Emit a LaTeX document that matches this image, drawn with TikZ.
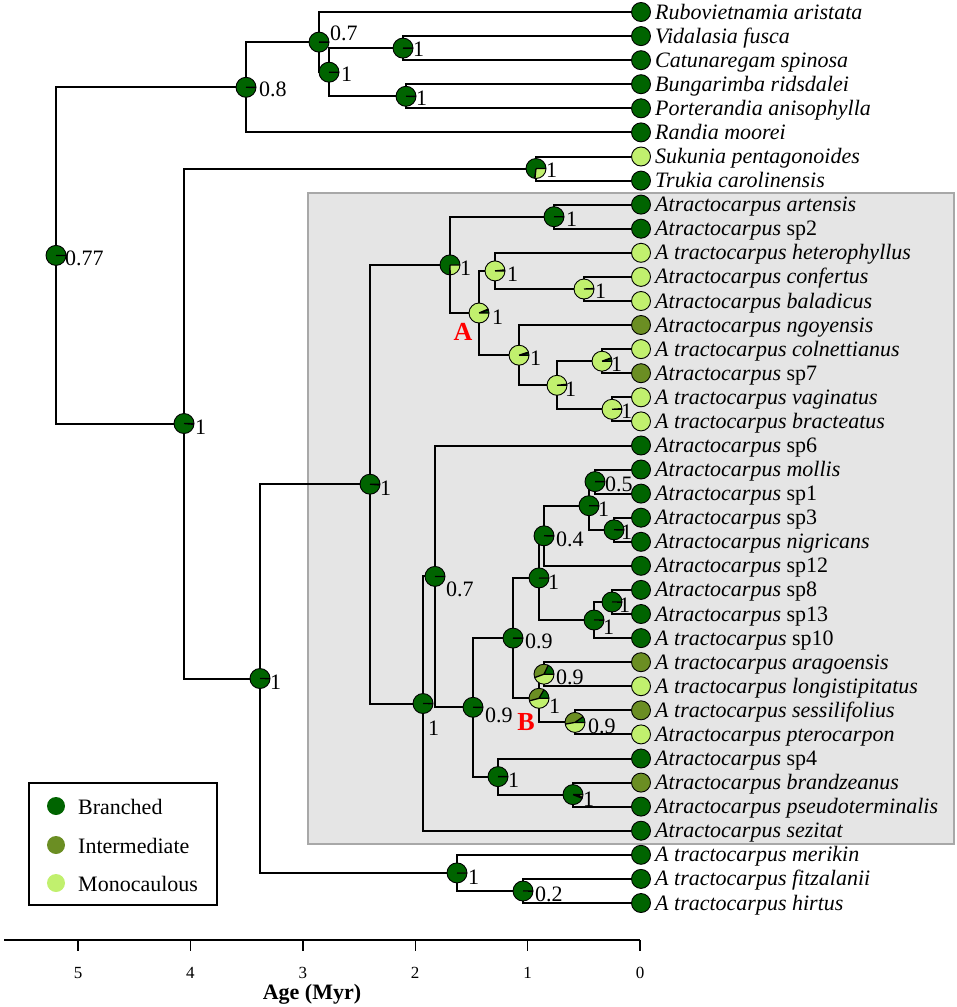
\documentclass[tikz,border=0pt]{standalone}
\usepackage{fontspec}
\setmainfont{Liberation Serif}
\definecolor{cB}{RGB}{0,100,0}
\definecolor{cI}{RGB}{107,142,35}
\definecolor{cM}{RGB}{193,240,110}
\definecolor{boxgrey}{RGB}{229,229,229}
\definecolor{boxedge}{RGB}{168,168,168}
\newcommand\nodepie[3]{%
 \fill[cB] (#1) -- ++(0:10) arc[start angle=0,end angle=-#2,radius=10] -- cycle;
 \fill[cI] (#1) -- ++(-#2:10) arc[start angle=-#2,end angle=-#3,radius=10] -- cycle;
 \fill[cM] (#1) -- ++(-#3:10) arc[start angle=-#3,end angle=-360,radius=10] -- cycle;
 \draw[pieline] (#1) -- ++(0:10) (#1) -- ++(-#2:10) (#1) -- ++(-#3:10);
 \draw[pieedge] (#1) circle[radius=10];
}
\tikzset{
 edge/.style={line width=2pt, black},
 pieline/.style={line width=1.3pt, black},
 pieedge/.style={line width=0.9pt, black},
 tipdot/.style={circle, draw=black, line width=0.9pt, minimum size=19pt, inner sep=0pt},
 tipname/.style={anchor=base west, inner sep=0pt, font=\fontsize{22}{24}\selectfont\itshape},
 numlab/.style={anchor=base west, inner sep=0pt, font=\fontsize{22}{24}\selectfont},
 cladelab/.style={inner sep=0pt, text=red, font=\fontsize{26}{28}\selectfont\bfseries},
 ticklab/.style={inner sep=0pt, font=\fontsize{17}{19}\selectfont},
 legdot/.style={circle, minimum size=18pt, inner sep=0pt},
 legtext/.style={anchor=base west, inner sep=0pt, font=\fontsize{22}{24}\selectfont},
}
\begin{document}
\begin{tikzpicture}[x=1pt,y=-1pt]
\useasboundingbox (0,0) rectangle (957,1007);
% grey clade box
\draw[fill=boxgrey, draw=boxedge, line width=1.2pt] (308,193) rectangle (954,844);

% tips
\foreach \n/\y/\c in {rub/12.0/cB, vid/36.1/cB, cat/60.2/cB, bun/84.2/cB, por/108.3/cB, ran/132.4/cB,
  suk/156.5/cM, tru/180.6/cB, art/204.6/cB, spii/228.7/cB, het/252.8/cM, conf/276.9/cM, bal/301.0/cM,
  ngo/325.0/cI, col/349.1/cM, spvii/373.2/cI, vag/397.3/cM, bra/421.4/cM, spvi/445.5/cB, mol/469.5/cB,
  spi/493.6/cB, spiii/517.7/cB, nig/541.8/cB, spxii/565.8/cB, spviii/589.9/cB, spxiii/614.0/cB,
  spx/638.1/cB, ara/662.2/cI, lon/686.2/cM, ses/710.3/cI, pte/734.4/cM, spiv/758.5/cB, bran/782.6/cI,
  pse/806.6/cB, sez/830.7/cB, mer/854.8/cB, fit/878.9/cB, hir/903.0/cB}
  {\node[tipdot, fill=\c] (T\n) at (641,\y) {};}

% names
\node[tipname] (Nrub) at (655,19.0) {Rubovietnamia aristata};
\node[tipname] (Nvid) at (655,43.1) {Vidalasia fusca};
\node[tipname] (Ncat) at (655,67.2) {Catunaregam spinosa};
\node[tipname] (Nbun) at (655,91.2) {Bungarimba ridsdalei};
\node[tipname] (Npor) at (655,115.3) {Porterandia anisophylla};
\node[tipname] (Nran) at (655,139.4) {Randia moorei};
\node[tipname] (Nsuk) at (655,163.5) {Sukunia pentagonoides};
\node[tipname] (Ntru) at (655,187.6) {Trukia carolinensis};
\node[tipname] (Nart) at (655,211.6) {Atractocarpus artensis};
\node[tipname] (Nspii) at (655,235.7) {Atractocarpus \textup{sp2}};
\node[tipname] (Nhet) at (655,259.8) {A tractocarpus heterophyllus};
\node[tipname] (Nconf) at (655,283.9) {Atractocarpus confertus};
\node[tipname] (Nbal) at (655,308.0) {Atractocarpus baladicus};
\node[tipname] (Nngo) at (655,332.0) {Atractocarpus ngoyensis};
\node[tipname] (Ncol) at (655,356.1) {A tractocarpus colnettianus};
\node[tipname] (Nspvii) at (655,380.2) {Atractocarpus \textup{sp7}};
\node[tipname] (Nvag) at (655,404.3) {A tractocarpus vaginatus};
\node[tipname] (Nbra) at (655,428.4) {A tractocarpus bracteatus};
\node[tipname] (Nspvi) at (655,452.5) {Atractocarpus \textup{sp6}};
\node[tipname] (Nmol) at (655,476.5) {Atractocarpus mollis};
\node[tipname] (Nspi) at (655,500.6) {Atractocarpus \textup{sp1}};
\node[tipname] (Nspiii) at (655,524.7) {Atractocarpus \textup{sp3}};
\node[tipname] (Nnig) at (655,548.8) {Atractocarpus nigricans};
\node[tipname] (Nspxii) at (655,572.8) {Atractocarpus \textup{sp12}};
\node[tipname] (Nspviii) at (655,596.9) {Atractocarpus \textup{sp8}};
\node[tipname] (Nspxiii) at (655,621.0) {Atractocarpus \textup{sp13}};
\node[tipname] (Nspx) at (655,645.1) {A tractocarpus \textup{sp10}};
\node[tipname] (Nara) at (655,669.2) {A tractocarpus aragoensis};
\node[tipname] (Nlon) at (655,693.2) {A tractocarpus longistipitatus};
\node[tipname] (Nses) at (655,717.3) {A tractocarpus sessilifolius};
\node[tipname] (Npte) at (655,741.4) {Atractocarpus pterocarpon};
\node[tipname] (Nspiv) at (655,765.5) {Atractocarpus \textup{sp4}};
\node[tipname] (Nbran) at (655,789.6) {Atractocarpus brandzeanus};
\node[tipname] (Npse) at (655,813.6) {Atractocarpus pseudoterminalis};
\node[tipname] (Nsez) at (655,837.7) {Atractocarpus sezitat};
\node[tipname] (Nmer) at (655,861.8) {A tractocarpus merikin};
\node[tipname] (Nfit) at (655,885.9) {A tractocarpus fitzalanii};
\node[tipname] (Nhir) at (655,910.0) {A tractocarpus hirtus};

% internal node positions
\coordinate (n1b) at (403,48.1);
\coordinate (n1c) at (406,96.3);
\coordinate (n1a) at (329,72.2);
\coordinate (n07) at (319,42.1);
\coordinate (n08) at (246,87.3);
\coordinate (nSuk) at (536,168.5);
\coordinate (n554) at (554,216.7);
\coordinate (n584) at (584,289.0);
\coordinate (n495) at (495,270.9);
\coordinate (n602) at (602,361.2);
\coordinate (n612) at (612,409.3);
\coordinate (n557) at (557,385.3);
\coordinate (n519) at (519,355.2);
\coordinate (nA) at (479,313.0);
\coordinate (n450) at (450,264.9);
\coordinate (n595) at (595,481.6);
\coordinate (n614) at (614,529.8);
\coordinate (n589) at (589,505.7);
\coordinate (n544) at (544,535.8);
\coordinate (n612b) at (612,602.0);
\coordinate (n594) at (594,620.0);
\coordinate (n539) at (539,577.9);
\coordinate (n544b) at (544,674.2);
\coordinate (n575) at (575,722.4);
\coordinate (nB) at (539,698.3);
\coordinate (n513) at (513,638.1);
\coordinate (n573) at (573,794.6);
\coordinate (n498) at (498,776.6);
\coordinate (n473) at (473,707.3);
\coordinate (n435) at (435,576.4);
\coordinate (n423) at (423,703.5);
\coordinate (n370) at (370,484.2);
\coordinate (n523) at (523,891.0);
\coordinate (n457) at (457,872.9);
\coordinate (n260) at (260,678.5);
\coordinate (n184) at (184,423.5);
\coordinate (root) at (56,255.4);

% branches
\draw[edge] (root) |- (n08); \draw[edge] (root) |- (n184);
\draw[edge] (n08) |- (n07); \draw[edge] (n08) |- (Tran);
\draw[edge] (n07) |- (Trub); \draw[edge] (n07) |- (n1a);
\draw[edge] (n1a) |- (n1b); \draw[edge] (n1a) |- (n1c);
\draw[edge] (n1b) |- (Tvid); \draw[edge] (n1b) |- (Tcat);
\draw[edge] (n1c) |- (Tbun); \draw[edge] (n1c) |- (Tpor);
\draw[edge] (n184) |- (nSuk); \draw[edge] (n184) |- (n260);
\draw[edge] (nSuk) |- (Tsuk); \draw[edge] (nSuk) |- (Ttru);
\draw[edge] (n260) |- (n370); \draw[edge] (n260) |- (n457);
\draw[edge] (n457) |- (Tmer); \draw[edge] (n457) |- (n523);
\draw[edge] (n523) |- (Tfit); \draw[edge] (n523) |- (Thir);
\draw[edge] (n370) |- (n450); \draw[edge] (n370) |- (n423);
\draw[edge] (n450) |- (n554); \draw[edge] (n450) |- (nA);
\draw[edge] (n554) |- (Tart); \draw[edge] (n554) |- (Tspii);
\draw[edge] (nA) |- (n495); \draw[edge] (nA) |- (n519);
\draw[edge] (n495) |- (Thet); \draw[edge] (n495) |- (n584);
\draw[edge] (n584) |- (Tconf); \draw[edge] (n584) |- (Tbal);
\draw[edge] (n519) |- (Tngo); \draw[edge] (n519) |- (n557);
\draw[edge] (n557) |- (n602); \draw[edge] (n557) |- (n612);
\draw[edge] (n602) |- (Tcol); \draw[edge] (n602) |- (Tspvii);
\draw[edge] (n612) |- (Tvag); \draw[edge] (n612) |- (Tbra);
\draw[edge] (n423) |- (n435); \draw[edge] (n423) |- (Tsez);
\draw[edge] (n435) |- (Tspvi); \draw[edge] (n435) |- (n473);
\draw[edge] (n473) |- (n513); \draw[edge] (n473) |- (n498);
\draw[edge] (n498) |- (Tspiv); \draw[edge] (n498) |- (n573);
\draw[edge] (n573) |- (Tbran); \draw[edge] (n573) |- (Tpse);
\draw[edge] (n513) |- (n539); \draw[edge] (n513) |- (nB);
\draw[edge] (n539) |- (n544); \draw[edge] (n539) |- (n594);
\draw[edge] (n544) |- (n589); \draw[edge] (n544) |- (Tspxii);
\draw[edge] (n589) |- (n595); \draw[edge] (n589) |- (n614);
\draw[edge] (n595) |- (Tmol); \draw[edge] (n595) |- (Tspi);
\draw[edge] (n614) |- (Tspiii); \draw[edge] (n614) |- (Tnig);
\draw[edge] (n594) |- (n612b); \draw[edge] (n594) |- (Tspx);
\draw[edge] (n612b) |- (Tspviii); \draw[edge] (n612b) |- (Tspxiii);
\draw[edge] (nB) |- (n544b); \draw[edge] (nB) |- (n575);
\draw[edge] (n544b) |- (Tara); \draw[edge] (n544b) |- (Tlon);
\draw[edge] (n575) |- (Tses); \draw[edge] (n575) |- (Tpte);

% pies
\nodepie{root}{359}{360}
\nodepie{n08}{359}{360}
\nodepie{n07}{359}{360}
\nodepie{n1a}{359}{360}
\nodepie{n1b}{359}{360}
\nodepie{n1c}{359}{360}
\nodepie{nSuk}{262}{264}
\nodepie{n184}{355}{358}
\nodepie{n260}{359}{360}
\nodepie{n370}{355}{358}
\nodepie{n450}{268}{271}
\nodepie{n554}{359}{360}
\nodepie{nA}{18}{23}
\nodepie{n495}{4}{6}
\nodepie{n584}{2}{3}
\nodepie{n519}{15}{18}
\nodepie{n557}{4}{6}
\nodepie{n602}{17}{20}
\nodepie{n612}{3}{4}
\nodepie{n435}{359}{360}
\nodepie{n423}{359}{360}
\nodepie{n473}{359}{360}
\nodepie{n513}{359}{360}
\nodepie{n539}{359}{360}
\nodepie{n544}{359}{360}
\nodepie{n589}{359}{360}
\nodepie{n595}{359}{360}
\nodepie{n614}{359}{360}
\nodepie{n594}{359}{360}
\nodepie{n612b}{359}{360}
\nodepie{nB}{60}{195}
\nodepie{n544b}{65}{200}
\nodepie{n575}{35}{190}
\nodepie{n498}{359}{360}
\nodepie{n573}{338}{345}
\nodepie{n457}{359}{360}
\nodepie{n523}{359}{360}

% support labels (west x, baseline y)
\node[numlab] (Lroot) at (65,265) {0.77};
\node[numlab] (L08) at (259,96) {0.8};
\node[numlab] (L07) at (330,40) {0.7};
\node[numlab] (L1a) at (341,81) {1};
\node[numlab] (L1b) at (413,56) {1};
\node[numlab] (L1c) at (416,105) {1};
\node[numlab] (LSuk) at (546,177) {1};
\node[numlab] (L184) at (195,434) {1};
\node[numlab] (L260) at (270,689) {1};
\node[numlab] (L370) at (380,495) {1};
\node[numlab] (L450) at (460,275) {1};
\node[numlab] (L554) at (566,226) {1};
\node[numlab] (LA) at (492,324) {1};
\node[numlab] (L495) at (507,281) {1};
\node[numlab] (L584) at (595,298) {1};
\node[numlab] (L519) at (530,365) {1};
\node[numlab] (L557) at (565,396) {1};
\node[numlab] (L602) at (611,371) {1};
\node[numlab] (L612) at (621,418) {1};
\node[numlab] (L435) at (446,596) {0.7};
\node[numlab] (L423) at (428,735) {1};
\node[numlab] (L473) at (485,722) {0.9};
\node[numlab] (L513) at (525,648) {0.9};
\node[numlab] (L539) at (548,589) {1};
\node[numlab] (L544) at (556,546) {0.4};
\node[numlab] (L589) at (598,516) {1};
\node[numlab] (L595) at (605,491) {0.5};
\node[numlab] (L614) at (621,539) {1};
\node[numlab] (L594) at (603,634) {1};
\node[numlab] (L612b) at (619,612) {1};
\node[numlab] (LB) at (549,713) {1};
\node[numlab] (L544b) at (556,684) {0.9};
\node[numlab] (L575) at (588,733) {0.9};
\node[numlab] (L498) at (508,787) {1};
\node[numlab] (L573) at (583,806) {1};
\node[numlab] (L457) at (468,884) {1};
\node[numlab] (L523) at (535,901) {0.2};

% clade letters
\node[cladelab] (cA) at (463,332) {A};
\node[cladelab] (cB) at (526,722) {B};

% legend
\draw[line width=1.8pt] (29,783) rectangle (217,905);
\node[legdot, fill=cB] (Db) at (56,806) {};
\node[legdot, fill=cI] (Di) at (56,845) {};
\node[legdot, fill=cM] (Dm) at (56,883) {};
\node[legtext] (Lb) at (78,814) {Branched};
\node[legtext] (Li) at (78,853) {Intermediate};
\node[legtext] (Lm) at (78,891) {Monocaulous};

% time axis
\coordinate (ax0) at (4,940);
\coordinate (ax1) at (640,940);
\draw[line width=1.4pt] (ax0) -- (ax1);
\foreach \t/\x in {5/78,4/190.4,3/302.8,2/415.2,1/527.6,0/640}{
  \draw[line width=1.4pt] (\x,940) -- (\x,951);
  \node[ticklab] (K\t) at (\x,973) {\t};
}
\node[inner sep=0pt, font=\fontsize{22}{24}\selectfont\bfseries] (age) at (312,994) {Age (Myr)};
\end{tikzpicture}
\end{document}
